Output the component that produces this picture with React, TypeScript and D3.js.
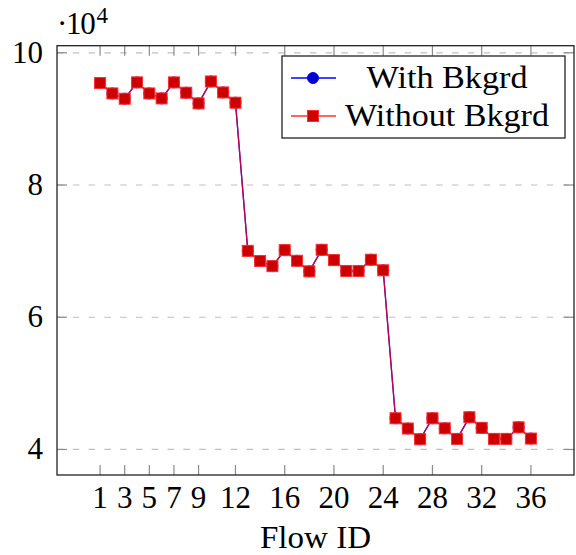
import React, { useEffect, useRef } from 'react';
import * as d3 from 'd3';

// flow ids 1..36
const flowIds = [
  1, 2, 3, 4, 5, 6, 7, 8, 9, 10, 11, 12,
  13, 14, 15, 16, 17, 18, 19, 20, 21, 22, 23, 24,
  25, 26, 27, 28, 29, 30, 31, 32, 33, 34, 35, 36,
];

// throughput values
const withBkgrd = [
  95420, 93850, 93050, 95520, 93850, 93100, 95520, 93960, 92340, 95660, 94000, 92450,
  70040, 68500, 67730, 70150, 68540, 66940, 70200, 68640, 67000, 67000, 68700, 67100,
  44720, 43170, 41550, 44720, 43200, 41600, 44870, 43270, 41600, 41600, 43350, 41650,
];
const withoutBkgrd = [
  95420, 93850, 93050, 95520, 93850, 93100, 95520, 93960, 92340, 95660, 94000, 92450,
  70040, 68500, 67730, 70150, 68540, 66940, 70200, 68640, 67000, 67000, 68700, 67100,
  44720, 43170, 41550, 44720, 43200, 41600, 44870, 43270, 41600, 41600, 43350, 41650,
];

const xTicks = [1, 3, 5, 7, 9, 12, 16, 20, 24, 28, 32, 36];
const yTicks = [40000, 60000, 80000, 100000];
const seriesNames = ['With Bkgrd', 'Without Bkgrd'];

const FONT = '"Liberation Serif", "DejaVu Serif", serif';

export default function App() {
  const ref = useRef<SVGSVGElement>(null);

  useEffect(() => {
    const svg = d3.select(ref.current);
    svg.selectAll('*').remove();

    const left = 57, right = 574, top = 45.7, bottom = 475;

    // pgfplots style 10% enlargement
    const xExt = d3.extent(flowIds) as [number, number];
    const xPad = (xExt[1] - xExt[0]) * 0.1;
    const x = d3.scaleLinear().domain([xExt[0] - xPad, xExt[1] + xPad]).range([left, right]);

    const all = withBkgrd.concat(withoutBkgrd);
    const yMin = d3.min(all) as number;
    const yMax = d3.max(all) as number;
    const yPad = (yMax - yMin) * 0.1;
    const y = d3.scaleLinear().domain([yMin - yPad, yMax + yPad]).range([bottom, top]);

    // grid
    svg.append('g')
      .selectAll('line')
      .data(yTicks)
      .enter()
      .append('line')
      .attr('x1', left)
      .attr('x2', right)
      .attr('y1', d => y(d))
      .attr('y2', d => y(d))
      .attr('stroke', '#c0c0c0')
      .attr('stroke-width', 1.2)
      .attr('stroke-dasharray', '6.5 9.3');

    // ticks on all four sides, inward
    const tl = 10;
    const ticks = svg.append('g').attr('stroke', '#8a8a8a').attr('stroke-width', 1.2);
    xTicks.forEach(t => {
      ticks.append('line').attr('x1', x(t)).attr('x2', x(t)).attr('y1', bottom).attr('y2', bottom - tl);
      ticks.append('line').attr('x1', x(t)).attr('x2', x(t)).attr('y1', top).attr('y2', top + tl);
    });
    yTicks.forEach(t => {
      ticks.append('line').attr('x1', left).attr('x2', left + tl).attr('y1', y(t)).attr('y2', y(t));
      ticks.append('line').attr('x1', right).attr('x2', right - tl).attr('y1', y(t)).attr('y2', y(t));
    });

    // lines + markers
    const line = d3.line<number>()
      .x((d, i) => x(flowIds[i]))
      .y(d => y(d));

    svg.append('path')
      .datum(withBkgrd)
      .attr('d', line)
      .attr('fill', 'none')
      .attr('stroke', '#0000ff')
      .attr('stroke-width', 1.3);
    svg.append('g')
      .selectAll('circle')
      .data(withBkgrd)
      .enter()
      .append('circle')
      .attr('cx', (d, i) => x(flowIds[i]))
      .attr('cy', d => y(d))
      .attr('r', 5.5)
      .attr('fill', '#0000cc')
      .attr('stroke', '#0000ff');

    svg.append('path')
      .datum(withoutBkgrd)
      .attr('d', line)
      .attr('fill', 'none')
      .attr('stroke', '#e0002a')
      .attr('stroke-opacity', 0.85)
      .attr('stroke-width', 1.3);
    const ms = 11;
    svg.append('g')
      .selectAll('rect')
      .data(withoutBkgrd)
      .enter()
      .append('rect')
      .attr('x', (d, i) => x(flowIds[i]) - ms / 2)
      .attr('y', d => y(d) - ms / 2)
      .attr('width', ms)
      .attr('height', ms)
      .attr('fill', '#cc0000')
      .attr('stroke', '#ff3030')
      .attr('stroke-width', 1);

    // frame
    svg.append('rect')
      .attr('x', left)
      .attr('y', top)
      .attr('width', right - left)
      .attr('height', bottom - top)
      .attr('fill', 'none')
      .attr('stroke', '#222')
      .attr('stroke-width', 1.3);

    // tick labels
    svg.append('g')
      .selectAll('text')
      .data(xTicks)
      .enter()
      .append('text')
      .attr('x', d => x(d))
      .attr('y', 508)
      .attr('text-anchor', 'middle')
      .attr('font-family', FONT)
      .attr('font-size', 31)
      .text(d => d);

    svg.append('g')
      .selectAll('text')
      .data(yTicks)
      .enter()
      .append('text')
      .attr('x', 43)
      .attr('y', d => y(d) + 10)
      .attr('text-anchor', 'end')
      .attr('font-family', FONT)
      .attr('font-size', 31)
      .text(d => d / 10000);

    // scale factor label
    const sf = svg.append('text')
      .attr('x', 57)
      .attr('y', 34)
      .attr('font-family', FONT)
      .attr('font-size', 31)
      .attr('textLength', 51)
      .attr('lengthAdjust', 'spacing');
    sf.append('tspan').text('\u00b710');
    sf.append('tspan').attr('font-size', 23).attr('dy', -11).attr('dx', 2).text('4');

    // axis title (CM is wider than Liberation, stretch to match)
    svg.append('text')
      .attr('x', (left + right) / 2)
      .attr('y', 548)
      .attr('text-anchor', 'middle')
      .attr('font-family', FONT)
      .attr('font-size', 31)
      .attr('textLength', 111)
      .attr('lengthAdjust', 'spacingAndGlyphs')
      .text('Flow ID');

    // legend
    const lg = svg.append('g');
    lg.append('rect')
      .attr('x', 282)
      .attr('y', 56)
      .attr('width', 283)
      .attr('height', 82)
      .attr('fill', '#fff')
      .attr('stroke', '#222')
      .attr('stroke-width', 1.3);
    const rows = [78, 116];
    const labelWidths = [161, 204];
    seriesNames.forEach((name, i) => {
      const cy = rows[i];
      lg.append('line')
        .attr('x1', 291)
        .attr('x2', 336)
        .attr('y1', cy)
        .attr('y2', cy)
        .attr('stroke', i === 0 ? '#0000ff' : '#ff3030')
        .attr('stroke-width', 1.3);
      if (i === 0) {
        lg.append('circle')
          .attr('cx', 313)
          .attr('cy', cy)
          .attr('r', 5.5)
          .attr('fill', '#0000cc')
          .attr('stroke', '#0000ff');
      } else {
        lg.append('rect')
          .attr('x', 313 - ms / 2)
          .attr('y', cy - ms / 2)
          .attr('width', ms)
          .attr('height', ms)
          .attr('fill', '#cc0000')
          .attr('stroke', '#ff3030');
      }
      lg.append('text')
        .attr('x', 447)
        .attr('y', cy + 10)
        .attr('text-anchor', 'middle')
        .attr('font-family', FONT)
        .attr('font-size', 31)
        .attr('textLength', labelWidths[i])
        .attr('lengthAdjust', 'spacingAndGlyphs')
        .text(name);
    });
  }, []);

  return (
    <svg
      ref={ref}
      width={576}
      height={555}
      style={{ position: 'absolute', left: 0, top: 0, background: '#fff' }}
    />
  );
}
